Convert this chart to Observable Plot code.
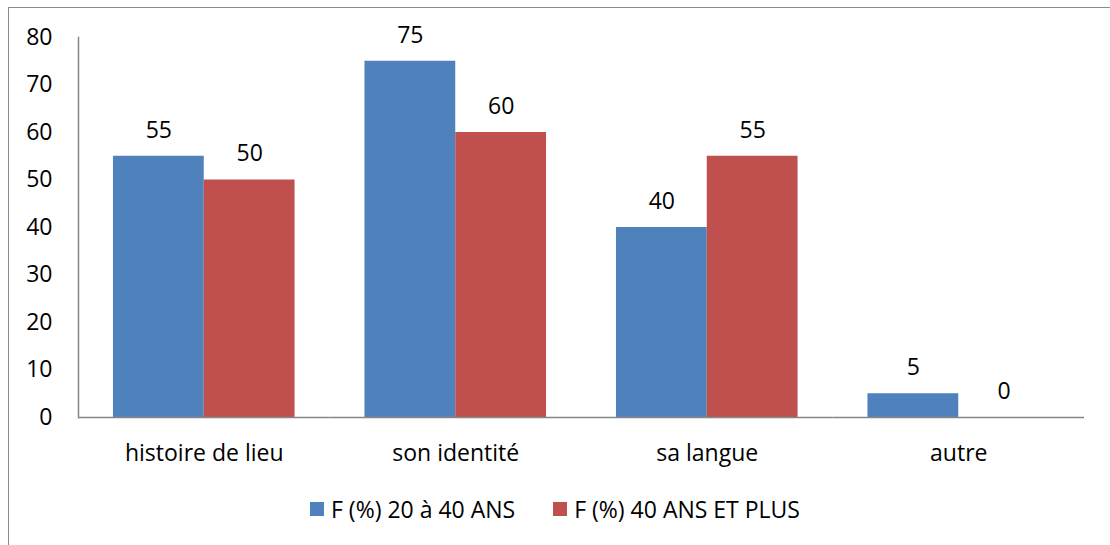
<!DOCTYPE html>
<html>
<head>
<meta charset="utf-8">
<script src="https://cdn.jsdelivr.net/npm/d3@7"></script>
<script src="https://cdn.jsdelivr.net/npm/@observablehq/plot@0.6"></script>
<style>
  html, body { margin: 0; padding: 0; background: #fff; }
  #wrap { position: relative; width: 1110px; height: 545px; overflow: hidden; font-family: "Open Sans", sans-serif; }
  #border { position: absolute; left: 8px; top: 7px; right: -10px; bottom: -10px; border-left: 1.5px solid #8a8a8a; border-top: 1.5px solid #8a8a8a; }
  #chart { position: absolute; left: 0; top: 0; }
  #legend { position: absolute; left: 0; top: 493px; width: 1110px; display: flex; justify-content: center; align-items: center; font-size: 23px; color: #000; }
  .item { display: flex; align-items: center; margin: 0 19px; }
  .sw { width: 14px; height: 14px; margin-right: 7px; }
</style>
</head>
<body>
<div id="wrap">
  <div id="border"></div>
  <div id="chart"></div>
  <div id="legend"></div>
</div>
<script>
const categories = ["histoire de lieu", "son identité", "sa langue", "autre"];
const seriesNames = ["F (%) 20 à 40 ANS", "F (%) 40 ANS ET PLUS"];
const series1 = [55, 75, 40, 5];
const series2 = [50, 60, 55, 0];
const colors = ["#4F81BD", "#C0504D"];
const yTicks = [0, 10, 20, 30, 40, 50, 60, 70, 80];

const data = [];
categories.forEach((c, i) => {
  data.push({cat: c, s: seriesNames[0], v: series1[i]});
  data.push({cat: c, s: seriesNames[1], v: series2[i]});
});

const chart = Plot.plot({
  width: 1110,
  height: 470,
  marginLeft: 78,
  marginRight: 26,
  marginTop: 37,
  marginBottom: 53,
  style: {fontFamily: "'Open Sans', sans-serif", fontSize: "23px", color: "#000", background: "transparent", overflow: "visible"},
  fx: {domain: categories, padding: 0, label: null, round: false},
  x: {domain: seriesNames, paddingInner: 0, paddingOuter: 0.385, round: false, axis: null},
  y: {domain: [0, 80], label: null},
  color: {domain: seriesNames, range: colors},
  marks: [
    Plot.barY(data, {fx: "cat", x: "s", y: "v", fill: "s", inset: 0}),
    Plot.text(data, {fx: "cat", x: "s", y: "v", text: d => String(d.v), dy: -26, fill: "#000", fontSize: 23}),
    Plot.ruleY([0], {stroke: "#868686", strokeWidth: 1.5}),
    Plot.frame({anchor: "left", facetAnchor: "left", stroke: "#868686", strokeWidth: 1.5}),
    Plot.axisY({ticks: yTicks, tickSize: 0, tickPadding: 26, label: null, fontSize: 23}),
    Plot.axisFx({anchor: "bottom", tickSize: 0, tickPadding: 27, label: null, fontSize: 23})
  ]
});
document.getElementById("chart").appendChild(chart);

const legend = document.getElementById("legend");
seriesNames.forEach((n, i) => {
  const it = document.createElement("div");
  it.className = "item";
  const sw = document.createElement("div");
  sw.className = "sw";
  sw.style.background = colors[i];
  const t = document.createElement("span");
  t.textContent = n;
  it.appendChild(sw);
  it.appendChild(t);
  legend.appendChild(it);
});
</script>
</body>
</html>
